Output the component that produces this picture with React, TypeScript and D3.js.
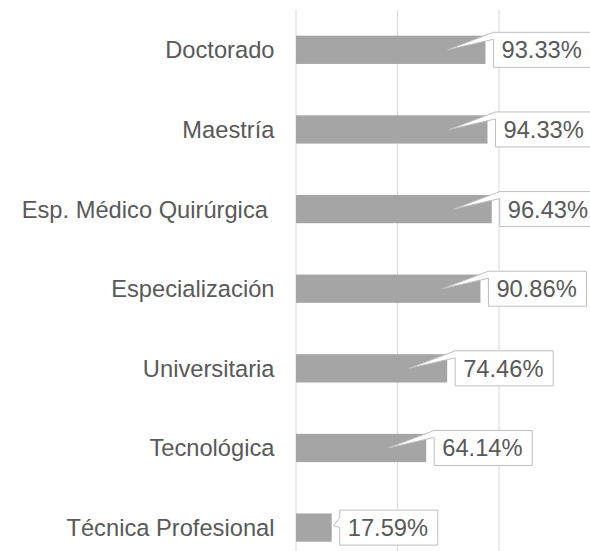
import React from "react";
import * as d3 from "d3";

const categories = [
  "Doctorado",
  "Maestría",
  "Esp. Médico Quirúrgica ",
  "Especialización",
  "Universitaria",
  "Tecnológica",
  "Técnica Profesional",
];
const values = [0.9333, 0.9433, 0.9643, 0.9086, 0.7446, 0.6414, 0.1759];
const gridTicks = [0, 0.5, 1, 1.5];

const W = 590;
const H = 551;
const FONT = "'Liberation Sans', Arial, sans-serif";
const FS = 23.7;
const TEXT = "#595959";

export default function App() {
  const x = d3.scaleLinear().domain([0, 1]).range([296, 499]);
  const y = d3
    .scaleBand<string>()
    .domain(categories)
    .range([10, 10 + 7 * 79.63])
    .paddingInner(0.645)
    .paddingOuter(0.3225);
  const fmt = d3.format(".2%");
  const boxW = 98;
  const boxH = 35;

  return (
    <svg
      width={W}
      height={H}
      style={{ position: "absolute", left: 0, top: 0, background: "#fff" }}
    >
      {gridTicks.map((t) => (
        <line
          key={t}
          x1={x(t)}
          x2={x(t)}
          y1={10}
          y2={H}
          stroke="#d9d9d9"
          strokeWidth={1}
        />
      ))}
      {categories.map((c) => {
        const yc = (y(c) as number) + y.bandwidth() / 2;
        return (
          <text
            key={"l" + c}
            x={274.5}
            y={yc + FS * 0.36}
            textAnchor="end"
            fontFamily={FONT}
            fontSize={FS}
            fill={TEXT}
            xmlSpace="preserve"
            style={{ whiteSpace: "pre" }}
          >
            {c}
          </text>
        );
      })}
      {categories.map((c, i) => (
        <rect
          key={"b" + c}
          x={x(0)}
          y={y(c) as number}
          width={x(values[i]) - x(0)}
          height={y.bandwidth()}
          fill="#a5a5a5"
        />
      ))}
      {categories.map((c, i) => {
        const yc = (y(c) as number) + y.bandwidth() / 2;
        const end = x(values[i]);
        const L = end + 8;
        const T = yc - boxH / 2;
        const B = yc + boxH / 2;
        const R = L + boxW;
        let tipX = end - 38;
        let path: string;
        if (tipX > x(0) + 5) {
          path = `M${L},${T} L${R},${T} L${R},${B} L${L},${B} L${L},${T + 7} L${tipX},${yc} Z`;
        } else {
          tipX = end + 2;
          path = `M${L},${T} L${R},${T} L${R},${B} L${L},${B} L${L},${yc} L${tipX},${yc - 2} L${L},${yc - 10} Z`;
        }
        return (
          <g key={"c" + c}>
            <path d={path} fill="#fff" stroke="#bfbfbf" strokeWidth={1} />
            <text
              x={L + 8}
              y={yc + FS * 0.36}
              fontFamily={FONT}
              fontSize={FS}
              fill={TEXT}
            >
              {fmt(values[i])}
            </text>
          </g>
        );
      })}
    </svg>
  );
}
